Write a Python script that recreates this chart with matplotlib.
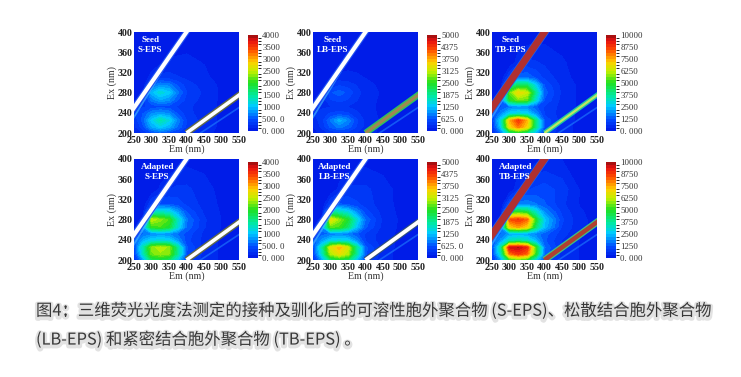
"""Six 3D-EEM panels (seed / adapted x S-, LB-, TB-EPS) with the caption below."""
import matplotlib
matplotlib.use('Agg')
import matplotlib.pyplot as plt
import matplotlib.patheffects as pe
from matplotlib.colors import LinearSegmentedColormap, BoundaryNorm
import numpy as np

# ─── DATA ─────────────────────────────────────────────────────────────────
EM = [250, 275, 300, 325, 350, 375, 400, 450, 500, 550]
EX = [200, 212, 225, 238, 252, 265, 280, 295, 310, 340, 400]

SEED_S = [
    [100, 250, 450, 550, 450, 350, 250, 150, 100, 80],
    [200, 450, 850, 1050, 900, 600, 350, 180, 100, 80],
    [250, 550, 1050, 1400, 1150, 700, 380, 180, 100, 80],
    [350, 500, 750, 850, 750, 500, 300, 180, 100, 80],
    [0, 350, 420, 450, 430, 350, 280, 180, 100, 80],
    [0, 250, 650, 850, 750, 500, 330, 200, 100, 60],
    [0, 50, 950, 1200, 1050, 650, 380, 220, 100, 60],
    [0, 0, 550, 750, 700, 480, 320, 190, 100, 60],
    [0, 0, 200, 300, 300, 260, 220, 150, 80, 50],
    [0, 0, 0, 100, 150, 150, 150, 120, 70, 50],
    [0, 0, 0, 0, 0, 30, 60, 60, 40, 30],
]
SEED_LB = [
    [80, 200, 350, 400, 380, 300, 200, 120, 80, 60],
    [150, 350, 650, 850, 700, 450, 260, 120, 80, 60],
    [200, 400, 800, 1150, 900, 500, 270, 120, 80, 60],
    [300, 380, 500, 550, 500, 350, 220, 120, 80, 60],
    [0, 280, 300, 320, 300, 260, 200, 120, 80, 60],
    [0, 200, 450, 520, 450, 320, 220, 120, 80, 50],
    [0, 50, 600, 700, 580, 380, 240, 130, 80, 50],
    [0, 0, 350, 450, 400, 300, 200, 120, 70, 50],
    [0, 0, 120, 200, 200, 180, 150, 100, 60, 40],
    [0, 0, 0, 50, 100, 100, 100, 80, 50, 40],
    [0, 0, 0, 0, 0, 20, 40, 40, 30, 20],
]
SEED_TB = [
    [400, 1500, 3800, 4500, 3800, 2300, 900, 400, 250, 200],
    [600, 2600, 6800, 8000, 7000, 4000, 1200, 400, 250, 200],
    [800, 2900, 7400, 8800, 7400, 4000, 1200, 450, 250, 200],
    [900, 1800, 2800, 3000, 2800, 1900, 900, 450, 250, 200],
    [0, 1200, 1600, 1800, 1700, 1300, 900, 500, 250, 200],
    [0, 1000, 4800, 5600, 5400, 3000, 1200, 500, 250, 150],
    [0, 300, 5400, 6900, 6300, 3800, 1400, 550, 250, 150],
    [0, 0, 3400, 4300, 4200, 2700, 1200, 500, 250, 150],
    [0, 0, 1000, 1500, 1500, 1200, 850, 420, 200, 120],
    [0, 0, 0, 500, 700, 650, 550, 350, 180, 120],
    [0, 0, 0, 0, 0, 100, 150, 150, 100, 70],
]
ADAPTED_S = [
    [200, 800, 1700, 1800, 1650, 1000, 400, 200, 100, 80],
    [300, 1250, 2200, 2350, 2250, 1500, 500, 200, 100, 80],
    [400, 1350, 2300, 2450, 2350, 1500, 520, 200, 100, 80],
    [500, 900, 1150, 1200, 1150, 800, 420, 200, 100, 80],
    [0, 600, 700, 750, 720, 600, 450, 220, 100, 80],
    [0, 800, 2000, 2100, 1900, 1200, 600, 260, 120, 60],
    [0, 200, 2500, 2300, 2100, 1300, 650, 270, 120, 60],
    [0, 0, 1300, 1300, 1200, 850, 500, 230, 110, 60],
    [0, 0, 400, 500, 500, 450, 350, 200, 100, 50],
    [0, 0, 0, 150, 250, 280, 280, 180, 80, 50],
    [0, 0, 0, 0, 0, 40, 70, 70, 40, 30],
]
ADAPTED_LB = [
    [250, 1000, 2000, 2300, 2100, 1200, 500, 200, 120, 80],
    [400, 1500, 3000, 3400, 3000, 1800, 650, 200, 120, 80],
    [500, 1700, 3300, 3700, 3200, 1900, 680, 220, 120, 80],
    [600, 1000, 1400, 1500, 1400, 950, 450, 220, 120, 80],
    [0, 700, 800, 850, 800, 650, 450, 220, 120, 80],
    [0, 900, 2700, 2600, 2100, 1250, 650, 250, 130, 70],
    [0, 250, 3400, 2900, 2400, 1500, 750, 270, 130, 70],
    [0, 0, 1800, 1700, 1450, 950, 550, 240, 120, 70],
    [0, 0, 500, 650, 600, 500, 400, 220, 110, 60],
    [0, 0, 0, 200, 350, 350, 350, 220, 100, 60],
    [0, 0, 0, 0, 0, 50, 80, 80, 50, 30],
]
ADAPTED_TB = [
    [500, 2000, 4800, 5200, 4700, 2800, 1100, 500, 300, 250],
    [800, 3200, 8000, 8800, 8200, 5000, 1500, 500, 300, 250],
    [1000, 3600, 9500, 9700, 9000, 5200, 1600, 550, 300, 250],
    [1200, 2000, 3400, 3700, 3400, 2400, 1300, 600, 300, 250],
    [0, 1500, 2000, 2100, 2000, 1700, 1400, 750, 350, 250],
    [0, 1800, 7000, 7600, 7000, 4200, 2400, 900, 400, 200],
    [0, 500, 8400, 8800, 8200, 5000, 2600, 1000, 400, 200],
    [0, 0, 4600, 5000, 4700, 3200, 1900, 850, 350, 200],
    [0, 0, 1300, 1700, 1800, 1600, 1300, 700, 300, 180],
    [0, 0, 0, 600, 900, 1000, 1100, 800, 300, 180],
    [0, 0, 0, 0, 0, 200, 300, 300, 150, 100],
]

RAYLEIGH_EM = [200, 450]
RAYLEIGH_EX = [200, 450]
SECOND_EM = [400, 600]
SECOND_EX = [200, 300]
STREAK_EM = [240, 385]
STREAK_EX = [220, 385]
LOW_STREAK_EM = [440, 560]
LOW_STREAK_EX = [200, 255]

X_TICKS = [250, 300, 350, 400, 450, 500, 550]
Y_TICKS = [200, 240, 280, 320, 360, 400]
CBAR_4000 = [0, 500, 1000, 1500, 2000, 2500, 3000, 3500, 4000]
CBAR_4000_LABELS = ['0. 000', '500. 0', '1000', '1500', '2000', '2500', '3000', '3500', '4000']
CBAR_5000 = [0, 625, 1250, 1875, 2500, 3125, 3750, 4375, 5000]
CBAR_5000_LABELS = ['0. 000', '625. 0', '1250', '1875', '2500', '3125', '3750', '4375', '5000']
CBAR_10000 = [0, 1250, 2500, 3750, 5000, 6250, 7500, 8750, 10000]
CBAR_10000_LABELS = ['0. 000', '1250', '2500', '3750', '5000', '6250', '7500', '8750', '10000']

CAPTION_1 = '图4：三维荧光光度法测定的接种及驯化后的可溶性胞外聚合物 (S-EPS)、松散结合胞外聚合物'
CAPTION_2 = '(LB-EPS) 和紧密结合胞外聚合物 (TB-EPS) 。'

# ─── STYLE ────────────────────────────────────────────────────────────────
W, H = 741, 377
SERIF = 'Liberation Serif'
CMAP = LinearSegmentedColormap.from_list('eem', [
    (0.00, '#001ce8'), (0.10, '#0048ff'), (0.25, '#00ccff'), (0.36, '#00eaa0'),
    (0.50, '#20e020'), (0.62, '#c0f000'), (0.72, '#ffd000'), (0.85, '#ff5000'),
    (0.95, '#e81010'), (1.00, '#a81010')])

WHITE_BAND = [(4.6, '#2050f0'), (3.0, '#ffffff')]
RED_BAND = [(6.0, '#2060e8'), (5.0, '#b03030')]
OLIVE_WHITE = [(4.6, '#606848'), (2.6, '#ffffff')]
LB_WHITE = [(4.4, '#30507a'), (2.8, '#ffffff')]
GREEN_RED = [(4.6, '#30c060'), (2.4, '#a08850')]
GREEN_YELLOW = [(3.6, '#20c8a0'), (1.6, '#c0e860')]
RED_GREEN = [(5.0, '#40c080'), (3.2, '#b04030')]

# left, top of each map in pixels + everything that differs per panel
PANELS = [
    (134, 32, SEED_S, 4000, CBAR_4000, CBAR_4000_LABELS, 'Seed', 'S-EPS', 0.155, WHITE_BAND, OLIVE_WHITE),
    (313, 32, SEED_LB, 5000, CBAR_5000, CBAR_5000_LABELS, 'Seed', 'LB-EPS', 0.19, WHITE_BAND, GREEN_RED),
    (492, 32, SEED_TB, 10000, CBAR_10000, CBAR_10000_LABELS, 'Seed', 'TB-EPS', 0.18, RED_BAND, GREEN_YELLOW),
    (134, 159, ADAPTED_S, 4000, CBAR_4000, CBAR_4000_LABELS, 'Adapted', 'S-EPS', 0.22, WHITE_BAND, OLIVE_WHITE),
    (313, 159, ADAPTED_LB, 5000, CBAR_5000, CBAR_5000_LABELS, 'Adapted', 'LB-EPS', 0.21, WHITE_BAND, LB_WHITE),
    (492, 159, ADAPTED_TB, 10000, CBAR_10000, CBAR_10000_LABELS, 'Adapted', 'TB-EPS', 0.22, RED_BAND, RED_GREEN),
]


def px_axes(fig, left, top, width, height):
    return fig.add_axes([left / W, 1 - (top + height) / H, width / W, height / H])


def draw_stack(ax, xs, ys, stack):
    for lw, col in stack:
        ax.plot(xs, ys, color=col, lw=lw, solid_capstyle='butt', zorder=3)


# ─── FIGURE ───────────────────────────────────────────────────────────────
fig = plt.figure(figsize=(W / 100, H / 100), dpi=100, facecolor='white')

for left, top, grid, vmax, cticks, clabels, line1, line2, tx, band, second in PANELS:
    ax = px_axes(fig, left, top, 105, 101)
    levels = np.linspace(0, vmax, 33)
    norm = BoundaryNorm(levels, 256)
    cs = ax.contourf(EM, EX, np.array(grid, dtype=float), levels=levels, cmap=CMAP, norm=norm)

    ax.plot(STREAK_EM, STREAK_EX, color='#40b0ff', lw=1.3, alpha=0.7, zorder=2)
    ax.plot(LOW_STREAK_EM, LOW_STREAK_EX, color='#2080ff', lw=1.2, alpha=0.6, zorder=2)
    draw_stack(ax, RAYLEIGH_EM, RAYLEIGH_EX, band)
    draw_stack(ax, SECOND_EM, SECOND_EX, second)

    ax.set_xlim(250, 550)
    ax.set_ylim(200, 400)
    ax.set_xticks(X_TICKS)
    ax.set_yticks(Y_TICKS)
    ax.tick_params(axis='x', length=0, pad=2.0, labelsize=7.2)
    ax.tick_params(axis='y', length=0, pad=1.0, labelsize=7.2)
    for lab in ax.get_xticklabels() + ax.get_yticklabels():
        lab.set_family(SERIF)
        lab.set_fontweight('bold')
        lab.set_color('#222222')
    ax.set_xlabel('Em (nm)', family=SERIF, fontsize=7.2, color='#333333', labelpad=0)
    ax.set_ylabel('Ex (nm)', family=SERIF, fontsize=7.2, color='#333333', labelpad=0.5)
    for sp in ax.spines.values():
        sp.set_visible(False)

    ax.text(tx, 0.925, line1, transform=ax.transAxes, ha='center', va='center',
            family=SERIF, fontweight='bold', fontsize=6.6, color='white', zorder=5)
    ax.text(tx, 0.825, line2, transform=ax.transAxes, ha='center', va='center',
            family=SERIF, fontweight='bold', fontsize=6.6, color='white', zorder=5)

    cax = px_axes(fig, left + 114, top + 3, 10, 96)
    cb = fig.colorbar(cs, cax=cax, ticks=cticks, spacing='proportional', drawedges=False)
    cb.set_ticklabels(clabels)
    cb.outline.set_visible(False)
    cb.ax.tick_params(length=0, pad=3, labelsize=6.4)
    for lab in cb.ax.get_yticklabels():
        lab.set_family(SERIF)
        lab.set_color('#333333')

# ─── CAPTION ──────────────────────────────────────────────────────────────
shadow = [pe.Stroke(linewidth=3.5, foreground='#e2e2e2', offset=(0, -1)), pe.Normal()]
for text, y in [(CAPTION_1, 311), (CAPTION_2, 340)]:
    fig.text(36 / W, 1 - y / H, text, ha='left', va='center', fontsize=11.8, color='#383838',
             family=['Noto Sans CJK SC', 'DejaVu Sans'], path_effects=shadow)

fig.savefig('out.png', dpi=100, facecolor='white')
plt.close(fig)
